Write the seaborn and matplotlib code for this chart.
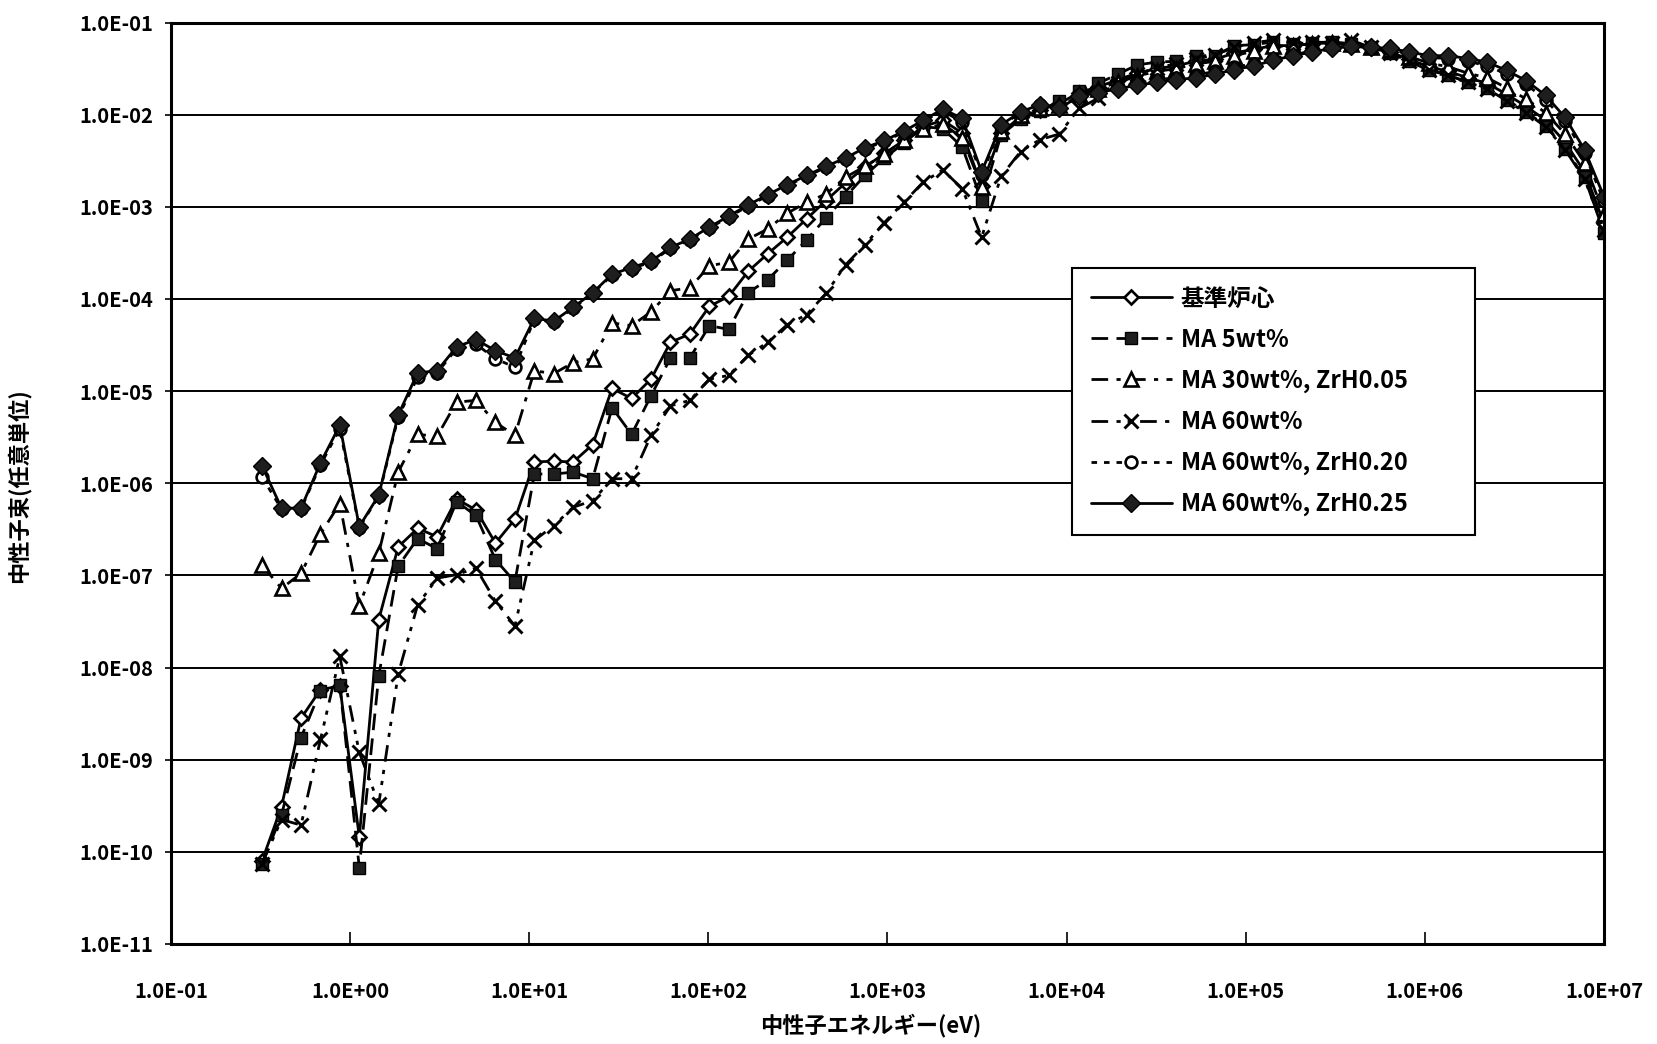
import matplotlib
matplotlib.use("Agg")
import matplotlib.pyplot as plt
from matplotlib.ticker import FixedLocator, FuncFormatter, NullLocator
import pandas as pd
import seaborn as sns

# Group energies (eV), 70 groups
energy_ev = [
    0.322, 0.414, 0.532, 0.683, 0.876, 1.125, 1.445, 1.855, 2.382, 3.059,
    3.928, 5.043, 6.476, 8.315, 10.68, 13.71, 17.60, 22.60, 29.02, 37.27,
    47.85, 61.44, 78.89, 101.3, 130.1, 167.0, 214.4, 275.4, 353.6, 454.0,
    582.9, 748.5, 961.1, 1234.0, 1585.0, 2035.0, 2613.0, 3355.0, 4307.0, 5531.0,
    7102.0, 9119.0, 1.171e4, 1.503e4, 1.931e4, 2.479e4, 3.183e4, 4.087e4, 5.248e4, 6.738e4,
    8.652e4, 1.111e5, 1.426e5, 1.832e5, 2.352e5, 3.020e5, 3.877e5, 4.979e5, 6.393e5, 8.208e5,
    1.054e6, 1.353e6, 1.738e6, 2.231e6, 2.865e6, 3.679e6, 4.724e6, 6.065e6, 7.788e6, 1.0e7,
]

# 基準炉心
flux_base = [
    7.94e-11, 3.09e-10, 2.82e-9, 5.75e-9, 6.31e-9, 1.45e-10, 3.31e-8, 2.04e-7, 3.24e-7, 2.63e-7,
    6.76e-7, 5.13e-7, 2.24e-7, 4.07e-7, 1.70e-6, 1.74e-6, 1.70e-6, 2.63e-6, 1.07e-5, 8.32e-6,
    1.35e-5, 3.39e-5, 4.17e-5, 8.32e-5, 1.07e-4, 2.00e-4, 3.09e-4, 4.68e-4, 7.41e-4, 1.17e-3,
    1.82e-3, 2.69e-3, 3.80e-3, 5.25e-3, 7.41e-3, 8.71e-3, 6.31e-3, 1.70e-3, 6.31e-3, 9.55e-3,
    1.12e-2, 1.32e-2, 1.74e-2, 2.00e-2, 2.40e-2, 2.82e-2, 3.16e-2, 3.39e-2, 3.80e-2, 3.98e-2,
    4.68e-2, 5.13e-2, 5.62e-2, 5.62e-2, 5.89e-2, 6.03e-2, 5.75e-2, 5.25e-2, 4.79e-2, 3.98e-2,
    3.31e-2, 2.95e-2, 2.51e-2, 2.19e-2, 1.66e-2, 1.23e-2, 8.71e-3, 5.01e-3, 2.40e-3, 6.61e-4,
]

# MA 5wt%
flux_ma5 = [
    7.41e-11, 2.51e-10, 1.74e-9, 5.62e-9, 6.46e-9, 6.76e-11, 8.13e-9, 1.26e-7, 2.51e-7, 1.95e-7,
    6.31e-7, 4.47e-7, 1.48e-7, 8.51e-8, 1.26e-6, 1.26e-6, 1.32e-6, 1.12e-6, 6.61e-6, 3.39e-6,
    8.91e-6, 2.29e-5, 2.29e-5, 5.13e-5, 4.68e-5, 1.17e-4, 1.62e-4, 2.63e-4, 4.37e-4, 7.59e-4,
    1.29e-3, 2.19e-3, 3.39e-3, 4.90e-3, 7.41e-3, 7.08e-3, 4.47e-3, 1.17e-3, 6.03e-3, 8.91e-3,
    1.10e-2, 1.41e-2, 1.82e-2, 2.19e-2, 2.75e-2, 3.47e-2, 3.72e-2, 3.80e-2, 4.37e-2, 4.37e-2,
    5.62e-2, 5.75e-2, 6.17e-2, 5.89e-2, 6.03e-2, 6.17e-2, 5.89e-2, 5.25e-2, 4.68e-2, 3.80e-2,
    3.02e-2, 2.69e-2, 2.24e-2, 1.95e-2, 1.45e-2, 1.07e-2, 7.59e-3, 4.27e-3, 2.09e-3, 5.25e-4,
]

# MA 30wt%, ZrH0.05
flux_ma30_zrh005 = [
    1.29e-7, 7.24e-8, 1.05e-7, 2.82e-7, 6.03e-7, 4.68e-8, 1.74e-7, 1.32e-6, 3.39e-6, 3.24e-6,
    7.59e-6, 7.94e-6, 4.57e-6, 3.31e-6, 1.66e-5, 1.55e-5, 2.04e-5, 2.24e-5, 5.50e-5, 5.13e-5,
    7.24e-5, 1.23e-4, 1.32e-4, 2.29e-4, 2.51e-4, 4.47e-4, 5.75e-4, 8.51e-4, 1.12e-3, 1.38e-3,
    2.09e-3, 2.75e-3, 3.72e-3, 5.25e-3, 6.92e-3, 7.94e-3, 5.62e-3, 1.66e-3, 6.61e-3, 1.00e-2,
    1.17e-2, 1.26e-2, 1.66e-2, 1.91e-2, 2.24e-2, 2.63e-2, 2.95e-2, 3.16e-2, 3.55e-2, 3.80e-2,
    4.37e-2, 4.90e-2, 5.50e-2, 5.62e-2, 5.89e-2, 6.03e-2, 5.89e-2, 5.37e-2, 5.01e-2, 4.27e-2,
    3.63e-2, 3.31e-2, 2.82e-2, 2.51e-2, 1.95e-2, 1.48e-2, 1.05e-2, 6.17e-3, 3.02e-3, 8.32e-4,
]

# MA 60wt%
flux_ma60 = [
    7.41e-11, 2.24e-10, 1.95e-10, 1.66e-9, 1.32e-8, 1.20e-9, 3.31e-10, 8.51e-9, 4.79e-8, 9.33e-8,
    1.02e-7, 1.20e-7, 5.25e-8, 2.82e-8, 2.40e-7, 3.47e-7, 5.50e-7, 6.46e-7, 1.12e-6, 1.12e-6,
    3.31e-6, 6.92e-6, 7.94e-6, 1.35e-5, 1.48e-5, 2.45e-5, 3.39e-5, 5.25e-5, 6.76e-5, 1.15e-4,
    2.34e-4, 3.89e-4, 6.76e-4, 1.12e-3, 1.86e-3, 2.51e-3, 1.58e-3, 4.68e-4, 2.14e-3, 3.98e-3,
    5.37e-3, 6.17e-3, 1.17e-2, 1.51e-2, 2.19e-2, 2.75e-2, 3.24e-2, 3.55e-2, 3.98e-2, 4.47e-2,
    5.37e-2, 6.03e-2, 6.46e-2, 6.03e-2, 6.17e-2, 6.03e-2, 6.46e-2, 5.37e-2, 4.68e-2, 3.80e-2,
    3.09e-2, 2.69e-2, 2.24e-2, 1.91e-2, 1.41e-2, 1.05e-2, 7.41e-3, 4.17e-3, 2.00e-3, 5.62e-4,
]

# MA 60wt%, ZrH0.20
flux_ma60_zrh020 = [
    1.17e-6, 5.25e-7, 5.25e-7, 1.58e-6, 3.89e-6, 3.31e-7, 7.24e-7, 5.25e-6, 1.41e-5, 1.58e-5,
    2.88e-5, 3.24e-5, 2.24e-5, 1.82e-5, 6.03e-5, 5.62e-5, 7.94e-5, 1.15e-4, 1.82e-4, 2.14e-4,
    2.51e-4, 3.55e-4, 4.37e-4, 5.89e-4, 7.76e-4, 1.02e-3, 1.32e-3, 1.70e-3, 2.14e-3, 2.69e-3,
    3.31e-3, 4.27e-3, 5.13e-3, 6.46e-3, 8.51e-3, 1.10e-2, 8.32e-3, 2.19e-3, 7.59e-3, 1.05e-2,
    1.26e-2, 1.20e-2, 1.62e-2, 1.82e-2, 2.00e-2, 2.19e-2, 2.40e-2, 2.51e-2, 2.69e-2, 2.95e-2,
    3.31e-2, 3.55e-2, 4.07e-2, 4.47e-2, 4.90e-2, 5.37e-2, 5.62e-2, 5.37e-2, 5.13e-2, 4.57e-2,
    4.17e-2, 4.07e-2, 3.80e-2, 3.39e-2, 2.75e-2, 2.14e-2, 1.45e-2, 8.51e-3, 3.80e-3, 1.15e-3,
]

# MA 60wt%, ZrH0.25
flux_ma60_zrh025 = [
    1.55e-6, 5.37e-7, 5.37e-7, 1.66e-6, 4.27e-6, 3.39e-7, 7.41e-7, 5.50e-6, 1.58e-5, 1.66e-5,
    3.02e-5, 3.63e-5, 2.75e-5, 2.29e-5, 6.17e-5, 5.75e-5, 8.13e-5, 1.17e-4, 1.86e-4, 2.19e-4,
    2.57e-4, 3.63e-4, 4.47e-4, 6.03e-4, 7.94e-4, 1.05e-3, 1.35e-3, 1.74e-3, 2.19e-3, 2.75e-3,
    3.39e-3, 4.37e-3, 5.25e-3, 6.61e-3, 8.71e-3, 1.15e-2, 9.12e-3, 2.40e-3, 7.76e-3, 1.07e-2,
    1.29e-2, 1.17e-2, 1.58e-2, 1.74e-2, 1.91e-2, 2.09e-2, 2.24e-2, 2.40e-2, 2.51e-2, 2.75e-2,
    3.09e-2, 3.39e-2, 3.89e-2, 4.37e-2, 4.79e-2, 5.25e-2, 5.50e-2, 5.37e-2, 5.25e-2, 4.79e-2,
    4.37e-2, 4.37e-2, 4.07e-2, 3.72e-2, 3.02e-2, 2.34e-2, 1.62e-2, 9.33e-3, 4.17e-3, 1.29e-3,
]

series_labels = [
    "基準炉心",
    "MA 5wt%",
    "MA 30wt%, ZrH0.05",
    "MA 60wt%",
    "MA 60wt%, ZrH0.20",
    "MA 60wt%, ZrH0.25",
]
series_flux = [flux_base, flux_ma5, flux_ma30_zrh005, flux_ma60,
               flux_ma60_zrh020, flux_ma60_zrh025]

x_ticks = [1e-1, 1e0, 1e1, 1e2, 1e3, 1e4, 1e5, 1e6, 1e7]
y_ticks = [1e-11, 1e-10, 1e-9, 1e-8, 1e-7, 1e-6, 1e-5, 1e-4, 1e-3, 1e-2, 1e-1]

x_label = "中性子エネルギー(eV)"
y_label = "中性子束(任意単位)"

sns.set_theme(style="white")
plt.rcParams["font.family"] = ["Noto Sans CJK JP", "DejaVu Sans"]
plt.rcParams["font.weight"] = "bold"
plt.rcParams["axes.unicode_minus"] = False

fill_dark = "#1e1e1e"
line_styles = [
    dict(marker="D", markersize=7.5, markerfacecolor="white", markeredgecolor="black",
         markeredgewidth=1.9, linestyle="-"),
    dict(marker="s", markersize=8.5, markerfacecolor=fill_dark, markeredgecolor="black",
         markeredgewidth=1.0, linestyle=(0, (6, 3))),
    dict(marker="^", markersize=9.5, markerfacecolor="white", markeredgecolor="black",
         markeredgewidth=1.9, linestyle=(0, (6, 3, 1.5, 3))),
    dict(marker="x", markersize=10, markeredgecolor="black", markeredgewidth=2.1,
         linestyle=(0, (6, 3, 1.5, 2.5, 1.5, 3))),
    dict(marker="o", markersize=8.5, markerfacecolor="white", markeredgecolor="black",
         markeredgewidth=1.9, linestyle=(0, (2, 2.5))),
    dict(marker="D", markersize=9, markerfacecolor=fill_dark, markeredgecolor="black",
         markeredgewidth=1.0, linestyle="-"),
]

fig = plt.figure(figsize=(16.57, 10.44), dpi=100)
ax = fig.add_axes([0.1032, 0.0958, 0.8648, 0.8826])
ax.set_xscale("log")
ax.set_yscale("log")

for label, flux, style in zip(series_labels, series_flux, line_styles):
    frame = pd.DataFrame({"energy": energy_ev, "flux": flux})
    sns.lineplot(data=frame, x="energy", y="flux", ax=ax, color="black",
                 linewidth=2.0, sort=False, label=label, **style)

ax.set_xlim(x_ticks[0], x_ticks[-1])
ax.set_ylim(y_ticks[0], y_ticks[-1])

sci_fmt = FuncFormatter(lambda v, pos: f"{v:.1E}")
ax.xaxis.set_major_locator(FixedLocator(x_ticks))
ax.yaxis.set_major_locator(FixedLocator(y_ticks))
ax.xaxis.set_minor_locator(NullLocator())
ax.yaxis.set_minor_locator(NullLocator())
ax.xaxis.set_major_formatter(sci_fmt)
ax.yaxis.set_major_formatter(sci_fmt)

ax.yaxis.grid(True, color="black", linewidth=1.4)
ax.xaxis.grid(False)
ax.set_axisbelow(True)

ax.tick_params(axis="x", which="major", bottom=True, direction="in", length=9,
               width=1.2, pad=27, labelsize=14.5, colors="black")
ax.tick_params(axis="y", which="major", left=True, direction="out", length=4,
               width=1.2, pad=9, labelsize=14.5, colors="black")
for side in ["left", "right", "top", "bottom"]:
    ax.spines[side].set_visible(True)
    ax.spines[side].set_color("black")
    ax.spines[side].set_linewidth(2.2)

ax.set_xlabel(x_label, fontsize=16, fontweight="bold", color="black")
ax.set_ylabel(y_label, fontsize=16, fontweight="bold", color="black")
ax.xaxis.set_label_coords(0.488, -0.075)
ax.yaxis.set_label_coords(-0.098, 0.497)

handles, labels = ax.get_legend_handles_labels()
leg = ax.legend(handles, labels, loc="upper left",
                bbox_to_anchor=(0.629, 0.446, 0.281, 0.288), mode="expand",
                frameon=True, fancybox=False, framealpha=1.0, edgecolor="black",
                fontsize=17, handlelength=3.4, handletextpad=0.4,
                labelspacing=0.72, borderpad=0.8, numpoints=1, borderaxespad=0)
leg.get_frame().set_linewidth(1.5)
for txt in leg.get_texts():
    txt.set_color("black")

fig.savefig("out.png", dpi=100, facecolor="white")
